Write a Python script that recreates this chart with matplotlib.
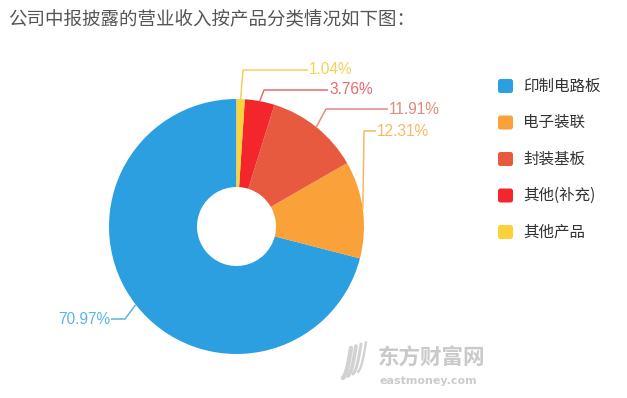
import numpy as np
import matplotlib.pyplot as plt
from matplotlib.patches import FancyBboxPatch

plt.rcParams['font.family'] = ['Noto Sans CJK SC', 'DejaVu Sans']

# data
categories = ['印制电路板', '电子装联', '封装基板', '其他(补充)', '其他产品']
shares = [70.97, 12.31, 11.91, 3.76, 1.04]
colors = ['#2c9fe0', '#fba13a', '#e85a40', '#f3262b', '#fbd23a']
label_colors = ['#5fb3e4', '#f8b766', '#e28a7b', '#e86a70', '#f2d15c']
title = '公司中报披露的营业收入按产品分类情况如下图：'

W, H = 627, 398
fig = plt.figure(figsize=(W / 100, H / 100), dpi=100)
ax = fig.add_axes([0, 0, 1, 1])

cx, cy = 236.5, H - 226.5
R, r_in = 127.5, 39.5

wedges, _ = ax.pie(shares, colors=colors, startangle=90, counterclock=True,
                   radius=R, center=(cx, cy),
                   wedgeprops=dict(width=R - r_in, linewidth=0))

# label layout: (elbow x, label y) in pixels from top-left, text on which side
label_layout = [
    (125, 319, 'left'),
    (364, 131, 'right'),
    (326, 109, 'right'),
    (264, 90, 'right'),
    (243, 70, 'right'),
]
label_end = [111, 376, 388, 328, 308]

for w, val, lc, (ex, ey, side), tx in zip(wedges, shares, label_colors, label_layout, label_end):
    ang = np.deg2rad((w.theta1 + w.theta2) / 2)
    px = cx + R * np.cos(ang)
    py = cy + R * np.sin(ang)
    ey2 = H - ey
    ax.plot([px, ex, tx], [py, ey2, ey2], color=lc, lw=1.1, solid_capstyle='butt')
    ha = 'left' if side == 'right' else 'right'
    ax.text(tx + (1 if side == 'right' else -1), ey2, f'{val:.2f}%', color=lc,
            fontsize=11.2, ha=ha, va='center', family='Liberation Sans')

# legend
for i, (cat, c) in enumerate(zip(categories, colors)):
    yy = H - (86 + i * 36.5)
    ax.add_patch(FancyBboxPatch((498, yy - 7), 15, 14,
                                boxstyle='round,pad=0,rounding_size=2.5',
                                fc=c, ec='none'))
    ax.text(523, yy, cat, fontsize=11.2, color='#333333', ha='left', va='center')

ax.text(8, H - 19, title, fontsize=13.3, color='#555555', ha='left', va='center')

# watermark: rough logo strokes + text
for k in range(4):
    t = np.linspace(0, 1, 20)
    xs = 343 + k * 5 + 8 * t
    ys = H - (378 - 30 * t + 6 * np.sin(np.pi * t)) + k * 2
    ax.plot(xs, ys, color='#d2d2d2', lw=3.2 - k * 0.5, solid_capstyle='round')
ax.text(378, H - 358, '东方财富网', fontsize=15.5, color='#c9c9c9',
        fontweight='bold', ha='left', va='center')
ax.text(379, H - 381, 'eastmoney.com', fontsize=8, color='#cccccc',
        fontweight='bold', ha='left', va='center', family='DejaVu Sans')

ax.set_xlim(0, W)
ax.set_ylim(0, H)
ax.set_aspect('auto')
ax.axis('off')

fig.savefig('out.png', dpi=100)
